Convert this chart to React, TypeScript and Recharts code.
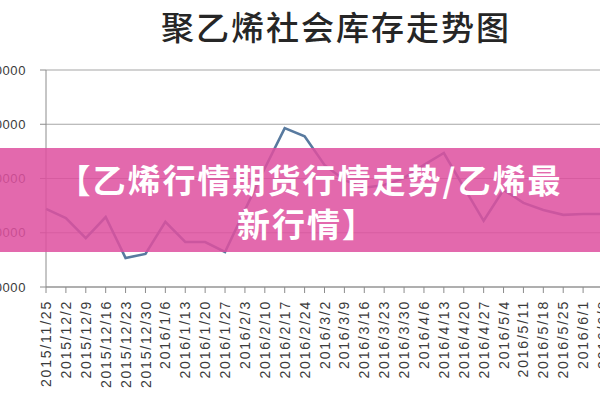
import React from 'react';
import { LineChart, Line, XAxis, YAxis, CartesianGrid } from 'recharts';

const categories = [
  '2015/11/25', '2015/12/2', '2015/12/9', '2015/12/16', '2015/12/23', '2015/12/30',
  '2016/1/6', '2016/1/13', '2016/1/20', '2016/1/27', '2016/2/3', '2016/2/10',
  '2016/2/17', '2016/2/24', '2016/3/2', '2016/3/9', '2016/3/16', '2016/3/23',
  '2016/3/30', '2016/4/6', '2016/4/13', '2016/4/20', '2016/4/27', '2016/5/4',
  '2016/5/11', '2016/5/18', '2016/5/25', '2016/6/1', '2016/6/8',
];

const inventory = [
  24400, 22700, 19000, 22900, 15350, 16100, 22000, 18300, 18300, 16450,
  24200, 31900, 39300, 37800, 32500, 29700, 28300, 28800, 30100, 32500,
  34700, 28400, 22200, 27900, 25500, 24200, 23300, 23450, 23450,
];

const yTicks = [10000, 20000, 30000, 40000, 50000];

const chartTitle = '聚乙烯社会库存走势图';
const bannerLine1 = '【乙烯行情期货行情走势/乙烯最';
const bannerLine2 = '新行情】';

const data = categories.map((date, i) => ({ date, value: inventory[i] }));

const DateTick = (props: any) => {
  const { x, y, payload } = props;
  return (
    <g transform={`translate(${x},${y + 5})`}>
      <text
        transform="rotate(-90)"
        textAnchor="end"
        dy="0.36em"
        fontSize={14}
        letterSpacing={1.8}
        fill="#3a3a3a"
        fontFamily="'Liberation Sans', Arial, sans-serif"
      >
        {payload.value}
      </text>
    </g>
  );
};

export default function App() {
  return (
    <div
      style={{
        position: 'absolute',
        left: 0,
        top: 0,
        width: 600,
        height: 400,
        overflow: 'hidden',
        background: '#ffffff',
      }}
    >
      <div
        style={{
          position: 'absolute',
          left: 0,
          top: 6,
          width: 672,
          textAlign: 'center',
          fontFamily: "'Noto Sans CJK SC', sans-serif",
          fontSize: 33,
          fontWeight: 500,
          letterSpacing: 2,
          color: '#262626',
          lineHeight: '40px',
        }}
      >
        {chartTitle}
      </div>
      <div style={{ position: 'absolute', left: -24, top: 0 }}>
        <LineChart
          width={660}
          height={400}
          data={data}
          margin={{ top: 70, right: 33, bottom: 0, left: 0 }}
        >
          <CartesianGrid horizontal vertical={false} stroke="#a6a6a6" strokeWidth={1.2} />
          <XAxis
            dataKey="date"
            interval={0}
            height={113}
            tick={<DateTick />}
            tickSize={6}
            tickLine={{ stroke: '#8c8c8c' }}
            axisLine={{ stroke: '#8c8c8c' }}
          />
          <YAxis
            width={70}
            domain={[10000, 50000]}
            ticks={yTicks}
            tickSize={6}
            tickMargin={14}
            tickLine={{ stroke: '#8c8c8c' }}
            axisLine={{ stroke: '#8c8c8c' }}
            tick={{ fontSize: 13, fill: '#3a3a3a', fontFamily: "'Liberation Sans', Arial, sans-serif", letterSpacing: 0.6 }}
          />
          <Line
            type="linear"
            dataKey="value"
            stroke="#587a9f"
            strokeWidth={2.6}
            dot={false}
            isAnimationActive={false}
          />
        </LineChart>
      </div>
      <div
        style={{
          position: 'absolute',
          left: 0,
          top: 148,
          width: 600,
          height: 104,
          background: 'rgba(222, 80, 160, 0.86)',
          color: '#ffffff',
          fontFamily: "'Noto Sans CJK SC', sans-serif",
          fontWeight: 700,
          fontSize: 33,
          letterSpacing: 2,
          textAlign: 'center',
          lineHeight: '44px',
          paddingTop: 9,
          boxSizing: 'border-box',
        }}
      >
        <div style={{ paddingLeft: 20 }}>{bannerLine1}</div>
        <div style={{ paddingLeft: 14 }}>{bannerLine2}</div>
      </div>
    </div>
  );
}
